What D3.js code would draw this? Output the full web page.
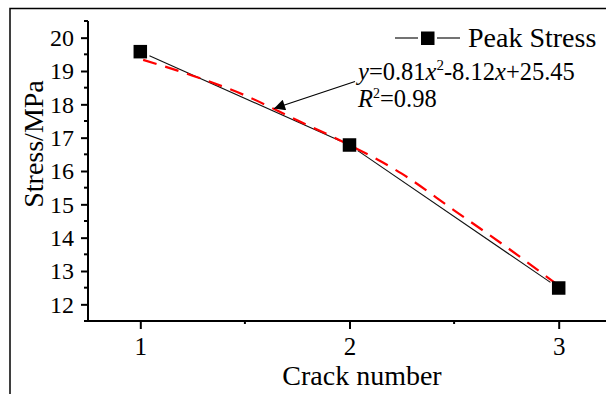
<!DOCTYPE html>
<html>
<head>
<meta charset="utf-8">
<script src="https://cdn.jsdelivr.net/npm/d3@7"></script>
<style>
  html, body { margin: 0; padding: 0; background: #fff; }
  svg { display: block; }
</style>
</head>
<body>
<svg id="chart" width="606" height="394"></svg>
<script>
// Peak stress for each crack count
const crackNumbers = [1, 2, 3];
const peakStress = [19.58, 16.78, 12.49];

// Quadratic fit curve, sampled along crack number
const fitX = [1, 1.25, 1.5, 1.75, 2, 2.25, 2.5, 2.75, 3];
const fitY = [19.36, 18.86, 18.27, 17.52, 16.78, 15.92, 14.82, 13.72, 12.56];

// Axis ticks
const xTicks = [1, 2, 3];
const xMinorTicks = [1.5, 2.5];
const yTicks = [12, 13, 14, 15, 16, 17, 18, 19, 20];
const yMinorTicks = [11.5, 12.5, 13.5, 14.5, 15.5, 16.5, 17.5, 18.5, 19.5, 20.5];

const seriesName = "Peak Stress";
const xTitle = "Crack number";
const yTitle = "Stress/MPa";

const SERIF = "'Liberation Serif', 'Times New Roman', serif";

const svg = d3.select("#chart");

// outer frame
svg.append("rect")
  .attr("x", 10).attr("y", 8.5)
  .attr("width", 620).attr("height", 420)
  .attr("fill", "none").attr("stroke", "#000").attr("stroke-width", 1.5);

const x = d3.scaleLinear().domain([0.75, 3.25]).range([88, 611]);
const y = d3.scaleLinear().domain([11.5, 20.5]).range([321, 21]);

const axisY = 321, axisX = 88;

// y axis
const gy = svg.append("g").attr("transform", `translate(${axisX},0)`);
gy.call(d3.axisLeft(y).tickValues(yTicks).tickSize(7).tickPadding(7).tickFormat(d3.format("d")));
gy.attr("font-family", null);
gy.select(".domain").remove();
gy.selectAll(".tick line").attr("stroke-width", 2);
gy.selectAll(".tick text").style("font-family", SERIF).style("font-size", "24px");
gy.selectAll(".minor").data(yMinorTicks).join("line")
  .attr("class", "minor")
  .attr("x1", -4).attr("x2", 0)
  .attr("y1", d => y(d)).attr("y2", d => y(d))
  .attr("stroke", "#000").attr("stroke-width", 2);
gy.append("line")
  .attr("x1", 0).attr("x2", 0).attr("y1", y(20.5)).attr("y2", axisY + 1)
  .attr("stroke", "#000").attr("stroke-width", 2);

// x axis
const gx = svg.append("g").attr("transform", `translate(0,${axisY})`);
gx.call(d3.axisBottom(x).tickValues(xTicks).tickSize(8).tickPadding(8).tickFormat(d3.format("d")));
gx.attr("font-family", null);
gx.select(".domain").remove();
gx.selectAll(".tick line").attr("stroke-width", 2);
gx.selectAll(".tick text").style("font-family", SERIF).style("font-size", "25px");
gx.selectAll(".minor").data(xMinorTicks).join("line")
  .attr("class", "minor")
  .attr("x1", d => x(d)).attr("x2", d => x(d))
  .attr("y1", 0).attr("y2", 3)
  .attr("stroke", "#000").attr("stroke-width", 2);
gx.append("line")
  .attr("x1", axisX - 1).attr("x2", 611).attr("y1", 0).attr("y2", 0)
  .attr("stroke", "#000").attr("stroke-width", 2);

// axis titles
svg.append("text")
  .attr("x", 362).attr("y", 385)
  .attr("text-anchor", "middle")
  .style("font-family", SERIF).style("font-size", "28px")
  .text(xTitle);
svg.append("text")
  .attr("transform", "translate(43,144) rotate(-90)")
  .attr("text-anchor", "middle")
  .style("font-family", SERIF).style("font-size", "28px")
  .text(yTitle);

// data line, with a small gap around each marker
const pts = crackNumbers.map((c, i) => [x(c), y(peakStress[i])]);
const gap = 10;
const segs = d3.pairs(pts).map(([a, b]) => {
  const dx = b[0] - a[0], dy = b[1] - a[1], len = Math.hypot(dx, dy);
  const ux = dx / len, uy = dy / len;
  return [a[0] + ux * gap, a[1] + uy * gap, b[0] - ux * gap, b[1] - uy * gap];
});
svg.append("g").selectAll("line").data(segs).join("line")
  .attr("x1", d => d[0]).attr("y1", d => d[1])
  .attr("x2", d => d[2]).attr("y2", d => d[3])
  .attr("stroke", "#111").attr("stroke-width", 1.1);

// fitted curve
const fitLine = d3.line()
  .x((d, i) => x(fitX[i]))
  .y(d => y(d))
  .curve(d3.curveMonotoneX);
svg.append("path")
  .datum(fitY)
  .attr("d", fitLine)
  .attr("fill", "none")
  .attr("stroke", "#ff0000")
  .attr("stroke-width", 2.2)
  .attr("stroke-dasharray", "14,9")
  .attr("stroke-dashoffset", -3);

// markers
const ms = 13.5;
svg.append("g").selectAll("rect").data(pts).join("rect")
  .attr("x", d => d[0] - ms / 2).attr("y", d => d[1] - ms / 2)
  .attr("width", ms).attr("height", ms)
  .attr("fill", "#000");

// legend
const lg = svg.append("g");
lg.append("line").attr("x1", 395).attr("x2", 418).attr("y1", 38).attr("y2", 38)
  .attr("stroke", "#000").attr("stroke-width", 1.1);
lg.append("line").attr("x1", 437).attr("x2", 460).attr("y1", 38).attr("y2", 38)
  .attr("stroke", "#000").attr("stroke-width", 1.1);
lg.append("rect").attr("x", 421).attr("y", 31.5).attr("width", ms).attr("height", ms).attr("fill", "#000");
lg.append("text").attr("x", 468).attr("y", 47)
  .style("font-family", SERIF).style("font-size", "28px")
  .text(seriesName);

// fit annotation
const defs = svg.append("defs");
defs.append("marker")
  .attr("id", "arrowhead")
  .attr("viewBox", "0 0 10 10")
  .attr("refX", 10).attr("refY", 5)
  .attr("markerWidth", 15).attr("markerHeight", 11)
  .attr("markerUnits", "userSpaceOnUse")
  .attr("orient", "auto")
  .append("path").attr("d", "M0,0 L10,5 L0,10 Z").attr("fill", "#000");
svg.append("line")
  .attr("x1", 355).attr("y1", 81.5).attr("x2", 274).attr("y2", 108.5)
  .attr("stroke", "#000").attr("stroke-width", 1.1)
  .attr("marker-end", "url(#arrowhead)");

const eq = svg.append("text").attr("x", 358).attr("y", 79.5)
  .style("font-family", SERIF).style("font-size", "24.5px");
eq.append("tspan").style("font-style", "italic").text("y");
eq.append("tspan").text("=0.81");
eq.append("tspan").style("font-style", "italic").text("x");
eq.append("tspan").style("font-size", "15px").attr("dy", -10).text("2");
eq.append("tspan").attr("dy", 10).text("-8.12");
eq.append("tspan").style("font-style", "italic").text("x");
eq.append("tspan").text("+25.45");

const r2 = svg.append("text").attr("x", 358).attr("y", 107)
  .style("font-family", SERIF).style("font-size", "24.5px");
r2.append("tspan").style("font-style", "italic").text("R");
r2.append("tspan").style("font-size", "14px").attr("dy", -9).text("2");
r2.append("tspan").attr("dy", 9).text("=0.98");
</script>
</body>
</html>
